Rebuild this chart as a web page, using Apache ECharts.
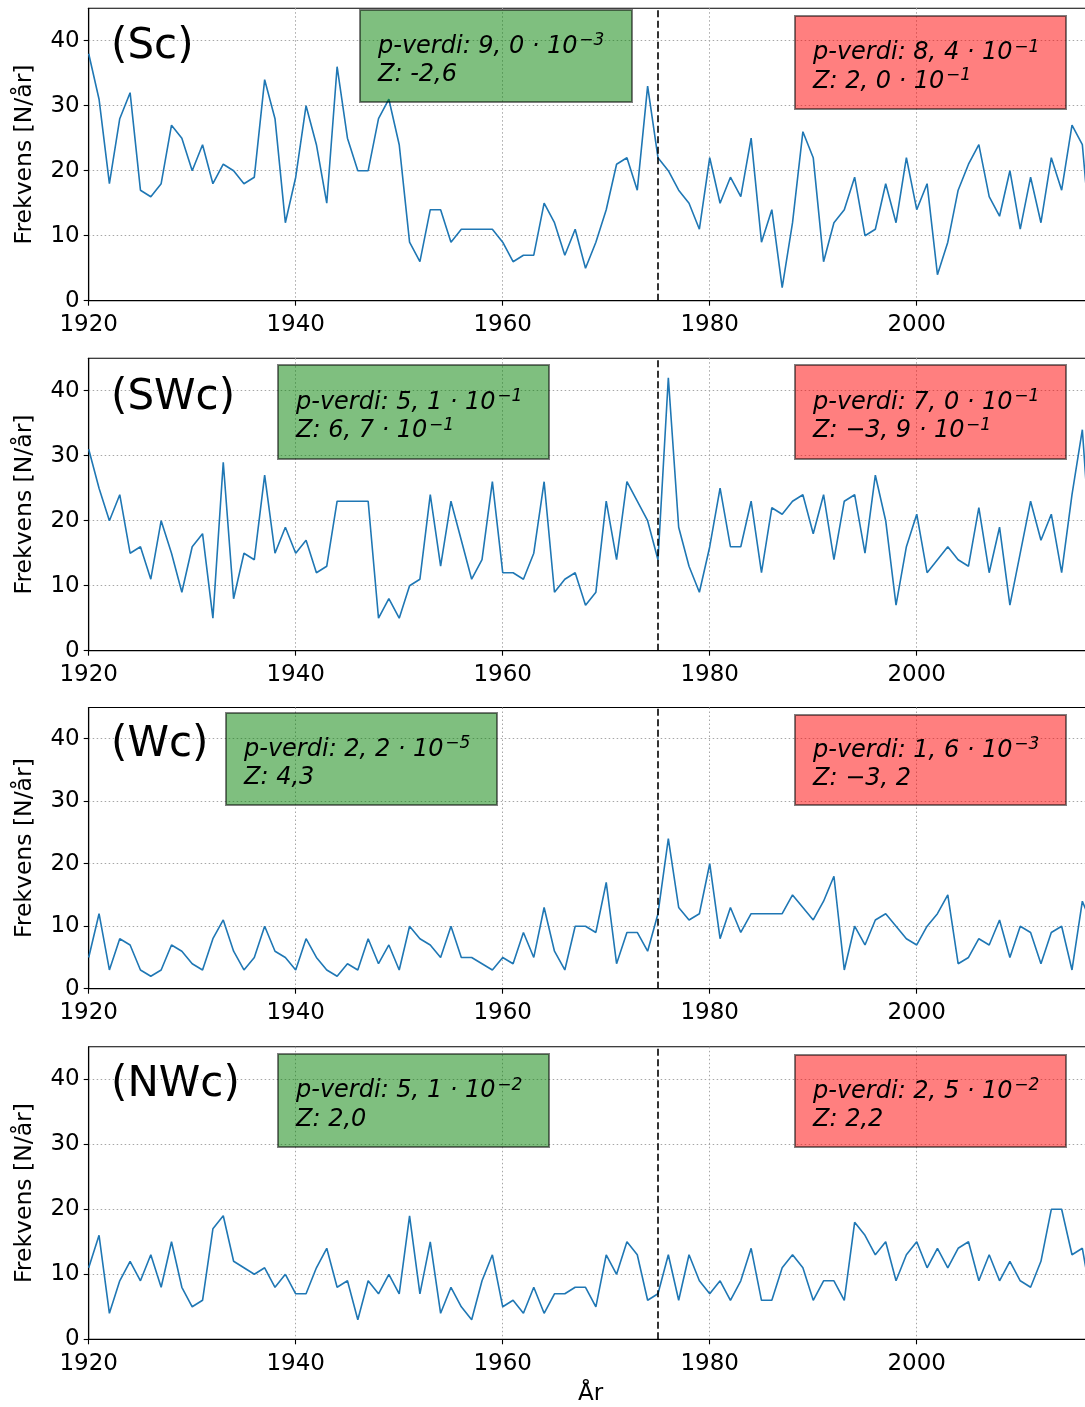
<!DOCTYPE html>
<html>
<head>
<meta charset="utf-8">
<script src="https://cdn.jsdelivr.net/npm/echarts@6/dist/echarts.min.js"></script>
<style>
  html, body { margin: 0; padding: 0; background: #fff; overflow: hidden; width: 1085px; height: 1407px; }
  #chart { width: 1100px; height: 1407px; }
</style>
</head>
<body>
<div id="chart"></div>
<script>
// Annual frequency of cyclonic weather types, 1920-2017
const firstYear = 1920;
const lastYear = 2017;
const changeYear = 1975;

const panelNames = ['(Sc)', '(SWc)', '(Wc)', '(NWc)'];

const sc = [38, 31, 18, 28, 32, 17, 16, 18, 27, 25,
            20, 24, 18, 21, 20, 18, 19, 34, 28, 12,
            19, 30, 24, 15, 36, 25, 20, 20, 28, 31,
            24, 9, 6, 14, 14, 9, 11, 11, 11, 11,
            9, 6, 7, 7, 15, 12, 7, 11, 5, 9,
            14, 21, 22, 17, 33, 22, 20, 17, 15, 11,
            22, 15, 19, 16, 25, 9, 14, 2, 12, 26,
            22, 6, 12, 14, 19, 10, 11, 18, 12, 22,
            14, 18, 4, 9, 17, 21, 24, 16, 13, 20,
            11, 19, 12, 22, 17, 27, 24, 6];

const swc = [31, 25, 20, 24, 15, 16, 11, 20, 15, 9,
             16, 18, 5, 29, 8, 15, 14, 27, 15, 19,
             15, 17, 12, 13, 23, 23, 23, 23, 5, 8,
             5, 10, 11, 24, 13, 23, 17, 11, 14, 26,
             12, 12, 11, 15, 26, 9, 11, 12, 7, 9,
             23, 14, 26, 23, 20, 14, 42, 19, 13, 9,
             16, 25, 16, 16, 23, 12, 22, 21, 23, 24,
             18, 24, 14, 23, 24, 15, 27, 20, 7, 16,
             21, 12, 14, 16, 14, 13, 22, 12, 19, 7,
             15, 23, 17, 21, 12, 24, 34, 11];

const wc = [5, 12, 3, 8, 7, 3, 2, 3, 7, 6,
            4, 3, 8, 11, 6, 3, 5, 10, 6, 5,
            3, 8, 5, 3, 2, 4, 3, 8, 4, 7,
            3, 10, 8, 7, 5, 10, 5, 5, 4, 3,
            5, 4, 9, 5, 13, 6, 3, 10, 10, 9,
            17, 4, 9, 9, 6, 12, 24, 13, 11, 12,
            20, 8, 13, 9, 12, 12, 12, 12, 15, 13,
            11, 14, 18, 3, 10, 7, 11, 12, 10, 8,
            7, 10, 12, 15, 4, 5, 8, 7, 11, 5,
            10, 9, 4, 9, 10, 3, 14, 10];

const nwc = [11, 16, 4, 9, 12, 9, 13, 8, 15, 8,
             5, 6, 17, 19, 12, 11, 10, 11, 8, 10,
             7, 7, 11, 14, 8, 9, 3, 9, 7, 10,
             7, 19, 7, 15, 4, 8, 5, 3, 9, 13,
             5, 6, 4, 8, 4, 7, 7, 8, 8, 5,
             13, 10, 15, 13, 6, 7, 13, 6, 13, 9,
             7, 9, 6, 9, 14, 6, 6, 11, 13, 11,
             6, 9, 9, 6, 18, 16, 13, 15, 9, 13,
             15, 11, 14, 11, 14, 15, 9, 13, 9, 12,
             9, 8, 12, 20, 20, 13, 14, 5];

// Test statistics before (green) and after (red) 1975: [mantissa, exponent] pairs
const beforeP = [['9, 0', '−3'], ['5, 1', '−1'], ['2, 2', '−5'], ['5, 1', '−2']];
const beforeZ = [['-2,6', null], ['6, 7', '−1'], ['4,3', null], ['2,0', null]];
const afterP  = [['8, 4', '−1'], ['7, 0', '−1'], ['1, 6', '−3'], ['2, 5', '−2']];
const afterZ  = [['2, 0', '−1'], ['−3, 9', '−1'], ['−3, 2', null], ['2,2', null]];

const yTicks = [0, 10, 20, 30, 40];
const xTicks = [1920, 1940, 1960, 1980, 2000];

const seriesValues = [sc, swc, wc, nwc];

// ---- layout ----
const FONT = 'DejaVu Sans';
const plotLeft = 88.7;
const plotWidth = 1004;
const panelTops = [8.2, 358.2, 707.5, 1046.8];
const panelHeights = [292.5, 292.5, 281.2, 292.5];
const greenBoxes = [[360, 10, 272, 92], [278, 365, 271, 94], [226, 713, 271, 92], [278, 1054, 271, 93]];
const redBoxes = [[795, 16, 271, 93], [795, 365, 271, 94], [795, 715, 271, 90], [795, 1055, 271, 92]];
const nameY = [47, 398, 745, 1085];

function pairs(values) {
  return values.map((v, i) => [firstYear + i, v]);
}

function statText(label, part) {
  const head = '{m|' + label + ': ' + part[0];
  if (part[1] === null) return head + '}';
  return head + ' · 10}{g| }{s|' + part[1] + '}';
}

const dotted = { color: '#a6a6a6', type: [1.5, 2.5], width: 1 };

const grids = [], xAxes = [], yAxes = [], series = [], graphics = [];

seriesValues.forEach((vals, i) => {
  grids.push({
    left: plotLeft, top: panelTops[i], width: plotWidth, height: panelHeights[i],
    show: true, borderColor: '#000', borderWidth: 1.1, backgroundColor: 'transparent'
  });
  xAxes.push({
    gridIndex: i, type: 'value', min: firstYear, max: lastYear, interval: 20,
    axisLine: { show: true, onZero: false, lineStyle: { color: '#000', width: 1.1 } },
    axisTick: { show: true, length: 5, lineStyle: { color: '#000', width: 1.1 },
      customValues: xTicks },
    axisLabel: { fontSize: 23, color: '#000', fontFamily: FONT, margin: 13,
      customValues: xTicks, formatter: v => String(v) },
    splitLine: { show: true, lineStyle: dotted },
    name: i === 3 ? 'År' : '', nameLocation: 'middle', nameGap: 43,
    nameTextStyle: { fontSize: 23, color: '#000', fontFamily: FONT }
  });
  yAxes.push({
    gridIndex: i, type: 'value', min: 0, max: 45, interval: 10,
    axisLine: { show: true, lineStyle: { color: '#000', width: 1.1 } },
    axisTick: { show: true, length: 5, lineStyle: { color: '#000', width: 1.1 },
      customValues: yTicks },
    axisLabel: { fontSize: 23, color: '#000', fontFamily: FONT, margin: 9,
      customValues: yTicks },
    splitLine: { show: true, lineStyle: dotted },
    name: 'Frekvens [N/år]', nameLocation: 'middle', nameGap: 52,
    nameTextStyle: { fontSize: 23.5, color: '#000', fontFamily: FONT }
  });
  series.push({
    type: 'line', xAxisIndex: i, yAxisIndex: i, data: pairs(vals),
    showSymbol: false, symbol: 'none', silent: true,
    lineStyle: { color: '#1f77b4', width: 1.6 },
    markLine: {
      silent: true, symbol: 'none', label: { show: false },
      lineStyle: { color: '#000', type: [7, 3.5], width: 1.6 },
      data: [{ xAxis: changeYear }]
    },
    z: 3
  });

  const rich = {
    m: { fontSize: 24, fontStyle: 'italic', fontFamily: FONT, fill: '#000', lineHeight: 28.5 },
    g: { fontSize: 5, fontFamily: FONT, lineHeight: 5 },
    s: { fontSize: 17, fontStyle: 'italic', fontFamily: FONT, fill: '#000', lineHeight: 15, verticalAlign: 'top' }
  };
  [[greenBoxes[i], 'rgba(0,128,0,0.5)', beforeP[i], beforeZ[i]],
   [redBoxes[i], 'rgba(255,0,0,0.5)', afterP[i], afterZ[i]]].forEach(([b, fill, p, z]) => {
    graphics.push({
      type: 'rect', shape: { x: b[0], y: b[1], width: b[2], height: b[3] },
      style: { fill: fill, stroke: 'rgba(0,0,0,0.5)', lineWidth: 2 }, z: 10, silent: true
    });
    graphics.push({
      type: 'text', x: b[0] + 18, y: b[1] + b[3] / 2 + 5, z: 11, silent: true,
      style: {
        text: statText('p-verdi', p) + '\n' + statText('Z', z),
        rich: rich, verticalAlign: 'middle', align: 'left', fill: '#000'
      }
    });
  });

  graphics.push({
    type: 'text', x: 111, y: nameY[i], z: 11, silent: true,
    style: { text: panelNames[i], fontSize: 42, fontFamily: FONT, fill: '#000',
      verticalAlign: 'middle', align: 'left' }
  });
});

const chart = echarts.init(document.getElementById('chart'), null, { renderer: 'canvas' });
chart.setOption({
  animation: false,
  backgroundColor: '#fff',
  grid: grids,
  xAxis: xAxes,
  yAxis: yAxes,
  series: series,
  graphic: { elements: graphics }
});
</script>
</body>
</html>
